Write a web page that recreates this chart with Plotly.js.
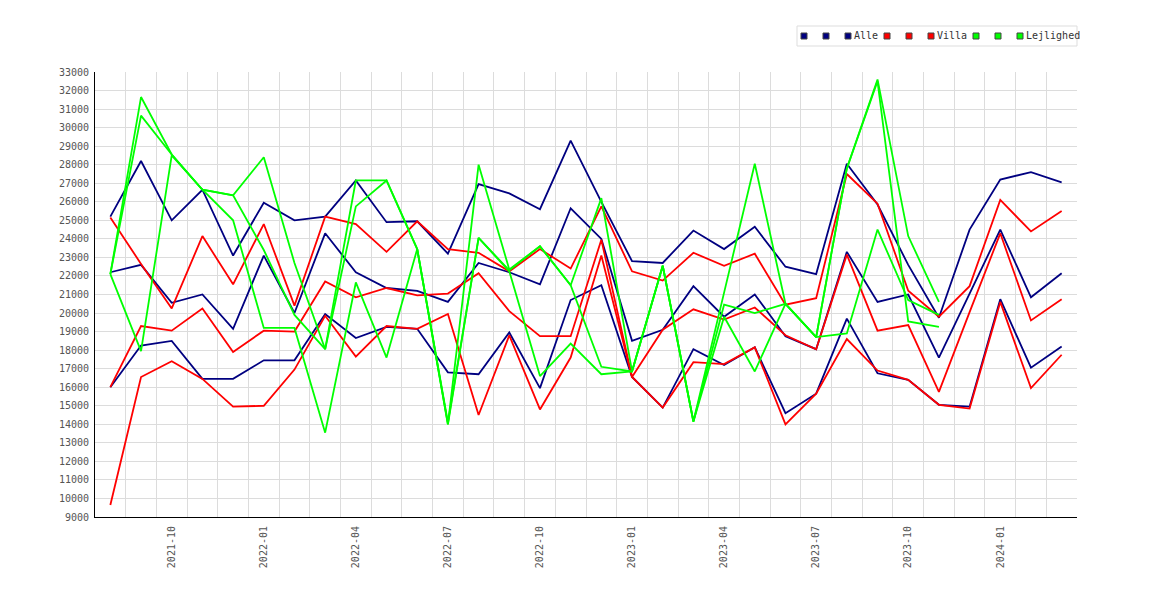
<!DOCTYPE html>
<html>
<head>
<meta charset="utf-8">
<script src="https://cdn.plot.ly/plotly-3.0.1.min.js"></script>
<style>
  html, body { margin: 0; padding: 0; background: #fff; }
  #chart { width: 1170px; height: 600px; }
</style>
</head>
<body>
<div id="chart"></div>
<script>
// months on the x axis
const months = [
  '2021-08', '2021-09', '2021-10', '2021-11', '2021-12',
  '2022-01', '2022-02', '2022-03', '2022-04', '2022-05', '2022-06',
  '2022-07', '2022-08', '2022-09', '2022-10', '2022-11', '2022-12',
  '2023-01', '2023-02', '2023-03', '2023-04', '2023-05', '2023-06',
  '2023-07', '2023-08', '2023-09', '2023-10', '2023-11', '2023-12',
  '2024-01', '2024-02', '2024-03'
];
const tickLabels = ['2021-10', '2022-01', '2022-04', '2022-07', '2022-10',
  '2023-01', '2023-04', '2023-07', '2023-10', '2024-01'];

// Alle (navy)
const alle1 = [25200, 28200, 25000, 26650, 23100, 25950, 25000, 25200, 27150, 24900, 24950, 23200, 26950, 26450, 25600, 29300,
  26000, 22800, 22700, 24450, 23450, 24650, 22500, 22100, 28050, 25850, 22600, 19750, 24500, 27200, 27600, 27050];
const alle2 = [22200, 22600, 20550, 21000, 19150, 23100, 20000, 24300, 22200, 21350, 21200, 20600, 22700, 22200, 21550, 25650,
  24000, 18500, 19100, 21450, 19800, 21000, 18750, 18050, 23300, 20600, 21000, 17600, 21050, 24500, 20850, 22150];
const alle3 = [16000, 18250, 18500, 16450, 16450, 17450, 17450, 19950, 18650, 19250, 19150, 16800, 16700, 18950, 15950, 20700,
  21500, 16550, 14900, 18050, 17200, 18150, 14600, 15650, 19700, 16750, 16400, 15050, 14950, 20750, 17050, 18200];

// Villa (red)
const villa1 = [25150, 22650, 20250, 24150, 21550, 24800, 20400, 25200, 24800, 23300, 24950, 23450, 23250, 22250, 23450, 22400,
  25750, 22250, 21750, 23250, 22550, 23200, 20450, 20800, 27500, 25900, 21200, 19800, 21450, 26100, 24400, 25500];
const villa2 = [16000, 19300, 19050, 20250, 17900, 19050, 19000, 21700, 20850, 21350, 20950, 21050, 22150, 20100, 18750, 18750,
  23950, 16550, 19100, 20200, 19650, 20300, 18800, 18050, 23150, 19050, 19350, 15750, 20050, 24300, 19600, 20750];
const villa3 = [9650, 16550, 17400, 16450, 14950, 15000, 16950, 19850, 17650, 19300, 19150, 19950, 14500, 18800, 14800, 17600,
  23100, 16550, 14900, 17350, 17250, 18150, 14000, 15650, 18600, 16900, 16400, 15050, 14850, 20600, 15950, 17750];

// Lejlighed (green), ends 2023-11
const lejl1 = [22100, 31650, 28550, 26650, 26350, 28400, 22700, 18050, 27150, 27150, 23450, 14000, 28000, 22350,
  23600, 21500, 26200, 16850, 22550, 14150, 21100, 28050, 20500, 18700, 27800, 32600, 24150, 20600];
const lejl2 = [22100, 30650, 28550, 26650, 26350, 23400, 19900, 18050, 25750, 27150, 23450, 14000, 24050, 22300,
  23600, 21500, 17100, 16850, 22550, 14150, 20450, 20000, 20500, 18700, 27800, 32500, 19550, 19250];
const lejl3 = [22100, 17950, 28500, 26650, 25000, 19200, 19200, 13550, 21650, 17600, 23450, 14100, 24050, 22250,
  16600, 18350, 16700, 16850, 22550, 14150, 19800, 16850, 20500, 18700, 18900, 24500, 20700, 19900];

const NAVY = '#000080', RED = '#ff0000', GREEN = '#00ff00';
const FONT = 'DejaVu Sans Mono, monospace';

const series = [
  {name: '', y: alle1, color: NAVY},
  {name: '', y: alle2, color: NAVY},
  {name: 'Alle', y: alle3, color: NAVY},
  {name: '', y: villa1, color: RED},
  {name: '', y: villa2, color: RED},
  {name: 'Villa', y: villa3, color: RED},
  {name: '', y: lejl1, color: GREEN},
  {name: '', y: lejl2, color: GREEN},
  {name: 'Lejlighed', y: lejl3, color: GREEN}
];

const traces = series.map(s => ({
  x: s.y.map((v, i) => i),
  y: s.y,
  type: 'scatter',
  mode: 'lines',
  name: s.name,
  line: {color: s.color, width: 1.8},
  hovertemplate: '%{y}<extra></extra>'
}));

// month boundaries for the vertical grid
const boundaries = months.map((m, i) => i + 0.5);

// legend drawn by hand: small squares and text in a box
const W = 1170, H = 600;
const margin = {l: 95, r: 93, t: 72, b: 83};
const pw = W - margin.l - margin.r, ph = H - margin.t - margin.b;
const px = x => (x - margin.l) / pw;
const py = y => (H - margin.b - y) / ph;

const shapes = [{
  type: 'rect', xref: 'paper', yref: 'paper',
  x0: px(797), x1: px(1077), y0: py(46), y1: py(26),
  line: {color: '#dddddd', width: 1}, fillcolor: '#ffffff'
}];
const annotations = [];
let cx = 804;
const cy = 36;
series.forEach(s => {
  shapes.push({
    type: 'rect', xref: 'paper', yref: 'paper',
    x0: px(cx - 3), x1: px(cx + 3), y0: py(cy + 3), y1: py(cy - 3),
    line: {color: '#444444', width: 1}, fillcolor: s.color
  });
  if (s.name) {
    annotations.push({
      xref: 'paper', yref: 'paper', x: px(cx + 4), y: py(cy),
      xanchor: 'left', yanchor: 'middle', showarrow: false,
      text: s.name, font: {family: FONT, size: 10, color: '#333333'}
    });
    cx += 4 + s.name.length * 6 + 11;
  } else {
    cx += 22;
  }
});

const layout = {
  width: W,
  height: H,
  margin: Object.assign({pad: 0}, margin),
  paper_bgcolor: '#ffffff',
  plot_bgcolor: '#ffffff',
  showlegend: false,
  xaxis: {
    range: [-0.5, months.length - 0.5],
    tickmode: 'array',
    tickvals: tickLabels.map(m => months.indexOf(m)),
    ticktext: tickLabels,
    tickangle: -90,
    showgrid: false,
    zeroline: false,
    showline: true,
    linecolor: '#000000',
    linewidth: 1,
    ticks: 'outside',
    ticklen: 4,
    tickcolor: 'rgba(0,0,0,0)',
    tickfont: {family: FONT, size: 10, color: '#555555'},
    minor: {
      tickmode: 'array',
      tickvals: boundaries,
      showgrid: true,
      gridcolor: '#dcdcdc',
      gridwidth: 1,
      ticks: ''
    }
  },
  yaxis: {
    range: [9000, 33000],
    tick0: 9000,
    dtick: 1000,
    tickformat: 'd',
    showgrid: true,
    gridcolor: '#dcdcdc',
    gridwidth: 1,
    zeroline: false,
    showline: true,
    linecolor: '#000000',
    linewidth: 1,
    ticks: 'outside',
    ticklen: 3,
    tickcolor: 'rgba(0,0,0,0)',
    tickfont: {family: FONT, size: 10, color: '#555555'}
  },
  shapes: shapes,
  annotations: annotations
};

Plotly.newPlot('chart', traces, layout, {displayModeBar: false, staticPlot: true});
</script>
</body>
</html>
